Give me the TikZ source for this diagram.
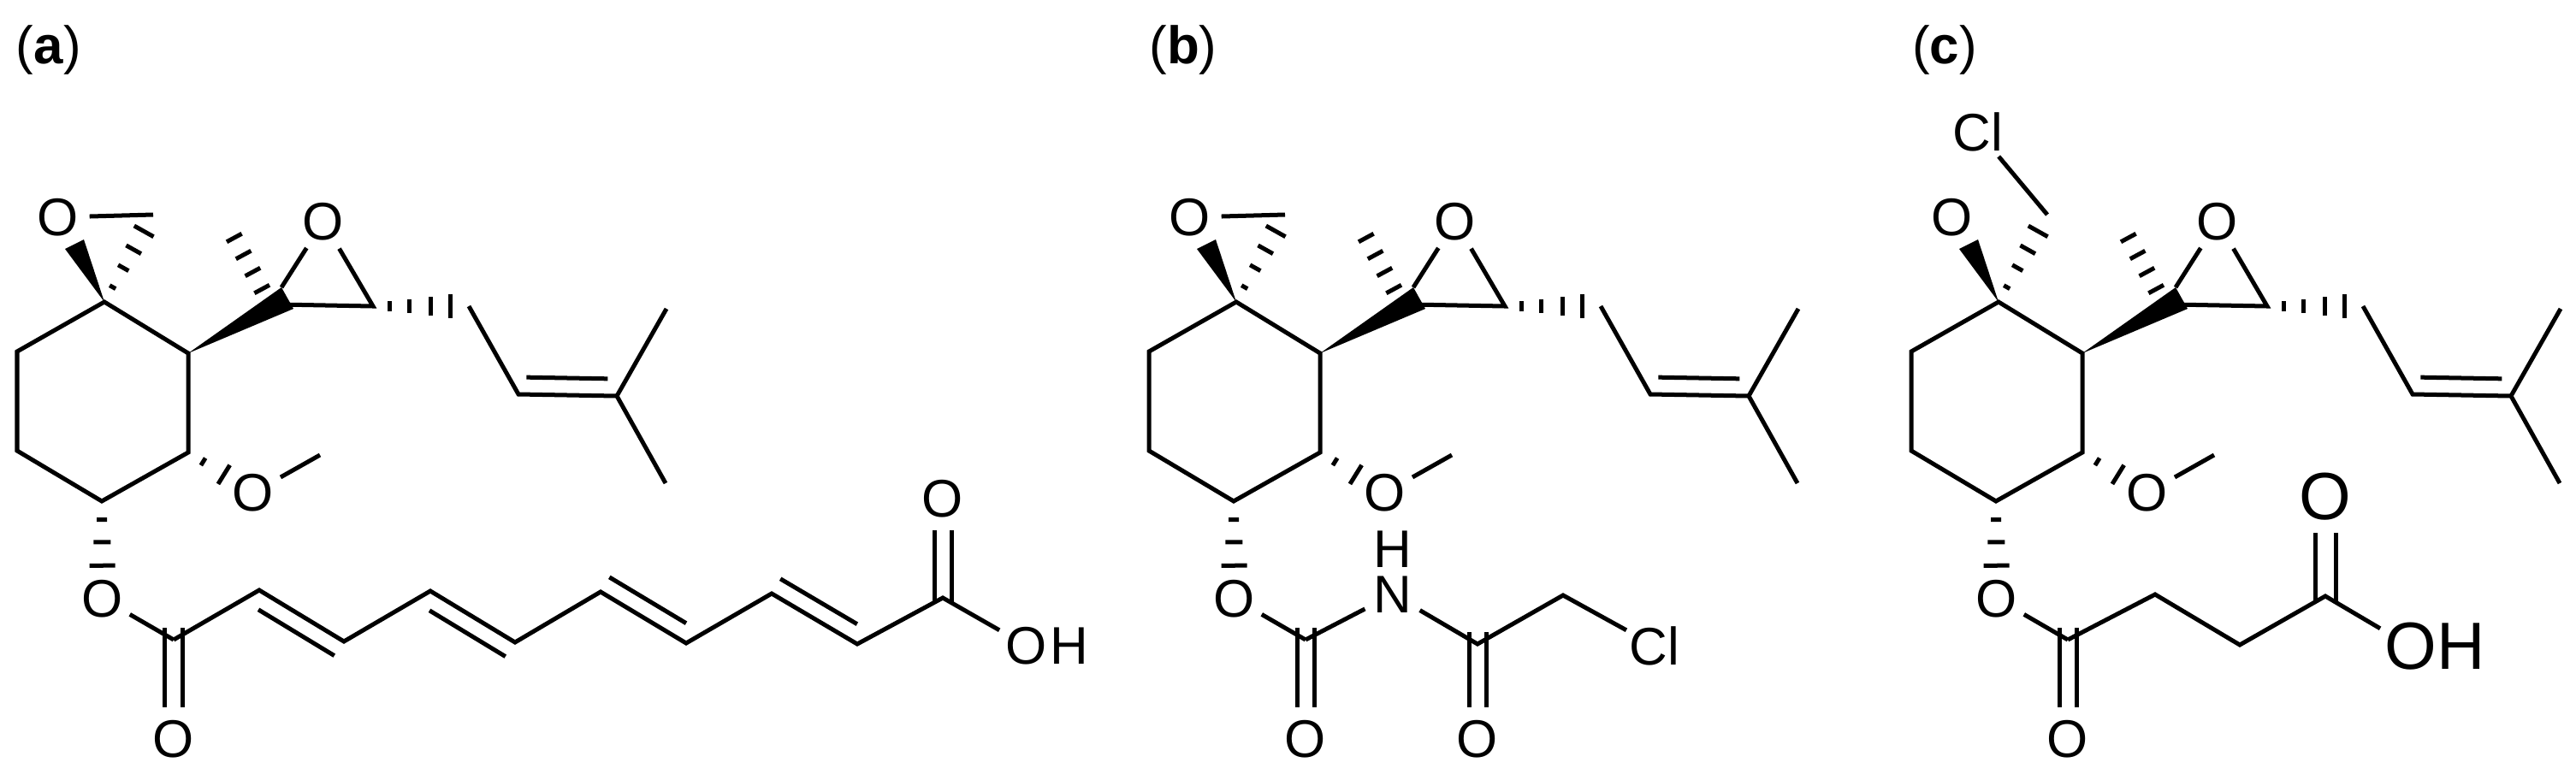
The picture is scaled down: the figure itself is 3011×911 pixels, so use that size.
\documentclass[tikz,border=0pt]{standalone}
\usepackage{fontspec}
\setmainfont{Liberation Sans}
\usetikzlibrary{calc}
\tikzset{
    bond/.style={line width=0.05cm},
    hash/.style={line width=0.05cm},
    dbl/.style={line width=0.05cm,double,double distance=0.15cm},
    atom/.style={circle,inner sep=0pt,minimum size=0.72cm,font=\fontsize{17.6pt}{20pt}\selectfont},
    bigatom/.style={circle,inner sep=0pt,minimum size=0.82cm,font=\fontsize{22.2pt}{25pt}\selectfont},
    tag/.style={inner sep=0pt,font=\fontsize{17.6pt}{20pt}\selectfont}
}
\newcommand{\hashbond}[3]{
    \foreach \f/\w in {#3} {
        \draw[hash] ($(#1)!\f!(#2)!\w*0.01cm!90:(#2)$) -- ($(#1)!\f!(#2)!\w*0.01cm!-90:(#2)$);
    }
}
\newcommand{\innerbond}[5]{
    \draw[bond] ($(#1)!#4*0.01cm!(#2)!20*0.01cm!#3:(#2)$) -- ($(#2)!#5*0.01cm!(#1)!20*0.01cm!-#3:(#1)$);
}
\begin{document}
\begin{tikzpicture}[x=0.01cm,y=-0.01cm]
    \useasboundingbox (0,0) rectangle (3011,911);
    % the part all three molecules share
    \foreach \panel/\dx in {a/0, b/1323, c/2214} {
        \begin{scope}[xshift=\dx*0.01cm, name prefix=\panel-]
            \coordinate (spiro) at (122,353);
            \coordinate (c2) at (220,413);
            \coordinate (c3) at (220,529);
            \coordinate (c4) at (119,586);
            \coordinate (c5) at (20,527);
            \coordinate (c6) at (20,411);
            \coordinate (ch2) at (179,251);
            \coordinate (wa) at (76,291);
            \coordinate (wb) at (98,280);
            \coordinate (ept) at (329,336);
            \coordinate (epw) at (343,361);
            \coordinate (epl) at (326,356);
            \coordinate (epr) at (436,358);
            \coordinate (epm) at (317,358);
            \coordinate (me) at (263,258);
            \coordinate (cha) at (548,358);
            \coordinate (vin) at (606,461);
            \coordinate (quat) at (721,463);
            \coordinate (me1) at (779,361);
            \coordinate (me2) at (778,565);
            \coordinate (mex) at (374,532);
            \coordinate (estc) at (203,748);
            \node[atom] (oxa) at (68,254) {O};
            \node[atom] (oxb) at (378,259) {O};
            \node[atom] (ome) at (296,576) {O};
            \node[atom] (oes) at (120,700) {O};
            \node[atom] (oco) at (203,864) {O};
            \draw[dbl,shorten <=-0.14cm] (estc) -- (oco);
            \draw[bond] (spiro) -- (c2) -- (c3) -- (c4) -- (c5) -- (c6) -- cycle;
            \fill (spiro) -- (wa) -- (wb) -- cycle;
            \fill (c2) -- (ept) -- (epw) -- cycle;
            \hashbond{spiro}{ch2}{.17/4,.39/7,.6/10,.81/13}
            \hashbond{epm}{me}{.2/10,.4/10,.6/10,.8/10,1/10}
            \hashbond{epr}{cha}{.17/6,.38/8,.6/11,.81/14}
            \hashbond{c3}{ome}{.23/5,.55/13}
            \hashbond{c4}{oes}{.19/6,.42/10,.66/15}
            \draw[bond] (ept) -- (oxb) -- (epr) -- (epl);
            \draw[bond] (cha) -- (vin) -- (quat) -- (me1);
            \draw[bond] (quat) -- (me2);
            \innerbond{vin}{quat}{90}{9}{11}
            \draw[bond] (ome) -- (mex);
            \draw[bond] (oes) -- (estc);
        \end{scope}
    }
    \foreach \panel in {a,b} {
        \draw[bond] (\panel-oxa) -- (\panel-ch2);
    }
    % (a)
    \node[tag] (a-tag) at (57,58) {(\textbf{a})};
    \node[atom] (a-oac) at (1102,583) {O};
    \node[atom] (a-oh) at (1200,755) {O};
    \node[atom] (a-h) at (1250,755) {H};
    \coordinate (a-d1) at (303,690);
    \coordinate (a-d2) at (402,750);
    \coordinate (a-d3) at (503,691);
    \coordinate (a-d4) at (602,751);
    \coordinate (a-d5) at (702,692);
    \coordinate (a-d6) at (802,752);
    \coordinate (a-d7) at (902,694);
    \coordinate (a-d8) at (1002,753);
    \coordinate (a-acid) at (1102,699);
    \draw[dbl,shorten <=-0.07cm] (a-acid) -- (a-oac);
    \draw[bond] (a-estc) -- (a-d1) -- (a-d2) -- (a-d3) -- (a-d4) -- (a-d5) -- (a-d6) -- (a-d7) -- (a-d8) -- (a-acid) -- (a-oh);
    \innerbond{a-d1}{a-d2}{-90}{11}{1}
    \innerbond{a-d3}{a-d4}{-90}{11}{1}
    \innerbond{a-d5}{a-d6}{90}{0}{12}
    \innerbond{a-d7}{a-d8}{90}{0}{12}
    % (b)
    \node[tag] (b-tag) at (1383,58) {(\textbf{b})};
    \node[atom] (b-n) at (1628,695) {N};
    \node[atom] (b-h) at (1628,642) {H};
    \node[atom] (b-oam) at (1727,864) {O};
    \node[atom] (b-cl) at (1934,755) {Cl};
    \coordinate (b-amc) at (1727,753);
    \coordinate (b-cha) at (1827,696);
    \draw[dbl,shorten <=-0.14cm] (b-amc) -- (b-oam);
    \draw[bond] (b-estc) -- (b-n) -- (b-amc) -- (b-cha) -- (b-cl);
    % (c)
    \node[tag] (c-tag) at (2273,58) {(\textbf{c})};
    \node[atom] (c-cl) at (2312,154) {Cl};
    \node[bigatom] (c-oac) at (2718,581) {O};
    \node[bigatom] (c-oh) at (2818,756) {O};
    \node[bigatom] (c-h) at (2877,756) {H};
    \coordinate (c-m1) at (2519,695);
    \coordinate (c-m2) at (2618,754);
    \coordinate (c-acid) at (2718,697);
    \draw[bond] (c-ch2) -- (c-cl);
    \draw[dbl,double distance=0.19cm,shorten <=-0.07cm] (c-acid) -- (c-oac);
    \draw[bond] (c-estc) -- (c-m1) -- (c-m2) -- (c-acid) -- (c-oh);
\end{tikzpicture}
\end{document}
